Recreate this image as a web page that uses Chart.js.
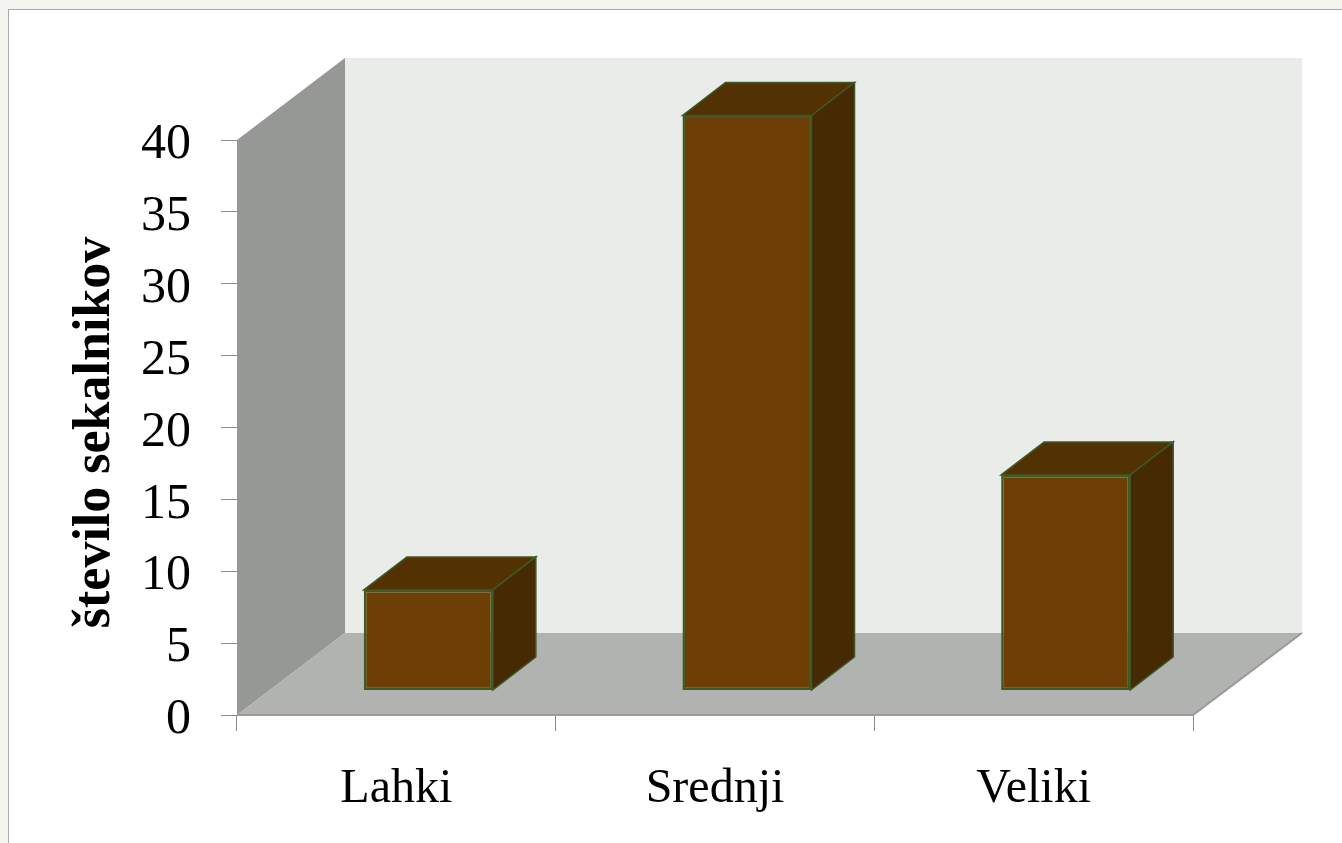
<!DOCTYPE html>
<html>
<head>
<meta charset="utf-8">
<style>
    html, body { margin: 0; padding: 0; width: 1342px; height: 843px; overflow: hidden; background: #f3f3ef; }
    #sheet { position: absolute; left: 8px; top: 9px; right: 0; bottom: 0; background: #fff; border-left: 1px solid #aaaaa6; border-top: 1px solid #aaaaa6; }
    canvas { position: absolute; left: 0; top: 0; }
</style>
<script src="https://cdn.jsdelivr.net/npm/chart.js@4"></script>
</head>
<body>
<div id="sheet"></div>
<canvas id="chart" width="1342" height="843"></canvas>
<script>
const categories = ['Lahki', 'Srednji', 'Veliki'];
const counts = [7, 40, 15];
const axisTitle = 'število sekalnikov';

// depth of the fake 3d box, and where the bars stand on the floor
const wallDx = 108, wallDy = -82;
const barDx = 43, barDy = -33;
const floorDx = 32, floorDy = -24.5;

function poly(ctx, pts, fill) {
    ctx.beginPath();
    pts.forEach((p, i) => i ? ctx.lineTo(p[0], p[1]) : ctx.moveTo(p[0], p[1]));
    ctx.closePath();
    ctx.fillStyle = fill;
    ctx.fill();
}

const box3d = {
    id: 'box3d',
    beforeDatasetsDraw(chart) {
        const ctx = chart.ctx;
        const { left, right, top, bottom } = chart.chartArea;

        // back wall, side wall, floor
        poly(ctx, [[left + wallDx, top + wallDy], [right + wallDx + 1, top + wallDy], [right + wallDx + 1, bottom + wallDy], [left + wallDx, bottom + wallDy]], '#eaecea');
        poly(ctx, [[left, top], [left + wallDx, top + wallDy], [left + wallDx, bottom + wallDy], [left, bottom]], '#969895');
        poly(ctx, [[left, bottom], [left + wallDx, bottom + wallDy], [right + wallDx + 1, bottom + wallDy], [right, bottom]], '#b1b3b0');

        ctx.strokeStyle = '#9a9b99';
        ctx.lineWidth = 2;
        ctx.beginPath();
        ctx.moveTo(left, bottom);
        ctx.lineTo(right, bottom);
        ctx.lineTo(right + wallDx + 1, bottom + wallDy);
        ctx.stroke();

        ctx.save();
        ctx.translate(floorDx, floorDy);
        chart.getDatasetMeta(0).data.forEach(bar => {
            const l = bar.x - bar.width / 2, r = bar.x + bar.width / 2;
            const topFace = [[l, bar.y], [l + barDx, bar.y + barDy], [r + barDx, bar.y + barDy], [r, bar.y]];
            const sideFace = [[r, bar.y], [r + barDx, bar.y + barDy], [r + barDx, bar.base + barDy], [r, bar.base]];
            poly(ctx, topFace, '#523203');
            ctx.strokeStyle = '#3f5a24';
            ctx.lineWidth = 1.5;
            ctx.stroke();
            poly(ctx, sideFace, '#452a04');
            ctx.stroke();
        });
    },
    afterDatasetsDraw(chart) {
        chart.ctx.restore();
    },
    afterDraw(chart) {
        // axis title sits a little below the axis middle, so not the built in one
        const ctx = chart.ctx;
        const y = chart.scales.y;
        ctx.save();
        ctx.translate(96, (y.top + y.bottom) / 2 + 5);
        ctx.rotate(-Math.PI / 2);
        ctx.font = 'bold 52px "Liberation Serif"';
        ctx.fillStyle = '#000';
        ctx.textAlign = 'center';
        ctx.textBaseline = 'middle';
        ctx.fillText(axisTitle, 0, 0);
        ctx.restore();
    }
};

new Chart(document.getElementById('chart').getContext('2d'), {
    type: 'bar',
    data: {
        labels: categories,
        datasets: [{
            data: counts,
            backgroundColor: '#6d3f07',
            borderColor: '#3f5a24',
            borderWidth: 2.5,
            borderSkipped: false,
            barPercentage: 0.405,
            categoryPercentage: 1,
            clip: false
        }]
    },
    plugins: [box3d],
    options: {
        responsive: false,
        animation: false,
        layout: { padding: { left: 0, right: 149, top: 140, bottom: 0 } },
        plugins: {
            legend: { display: false },
            tooltip: { enabled: false }
        },
        scales: {
            x: {
                offset: true,
                afterFit(scale) { scale.height = 128; scale.paddingLeft = 0; scale.paddingRight = 0; },
                grid: { drawOnChartArea: false, color: '#8a8a8a', tickLength: 16, tickColor: '#8a8a8a' },
                border: { display: false },
                ticks: { color: '#000', font: { family: '"Liberation Serif"', size: 48 }, padding: 30, maxRotation: 0 }
            },
            y: {
                min: 0,
                max: 40,
                afterFit(scale) { scale.width = 237; scale.paddingTop = 0; scale.paddingBottom = 0; },
                grid: { drawOnChartArea: false, color: '#8a8a8a', tickLength: 16, tickColor: '#8a8a8a' },
                border: { display: false },
                ticks: { stepSize: 5, color: '#000', font: { family: '"Liberation Serif"', size: 50 }, padding: 30, labelOffset: 5 }
            }
        }
    }
});
</script>
</body>
</html>
